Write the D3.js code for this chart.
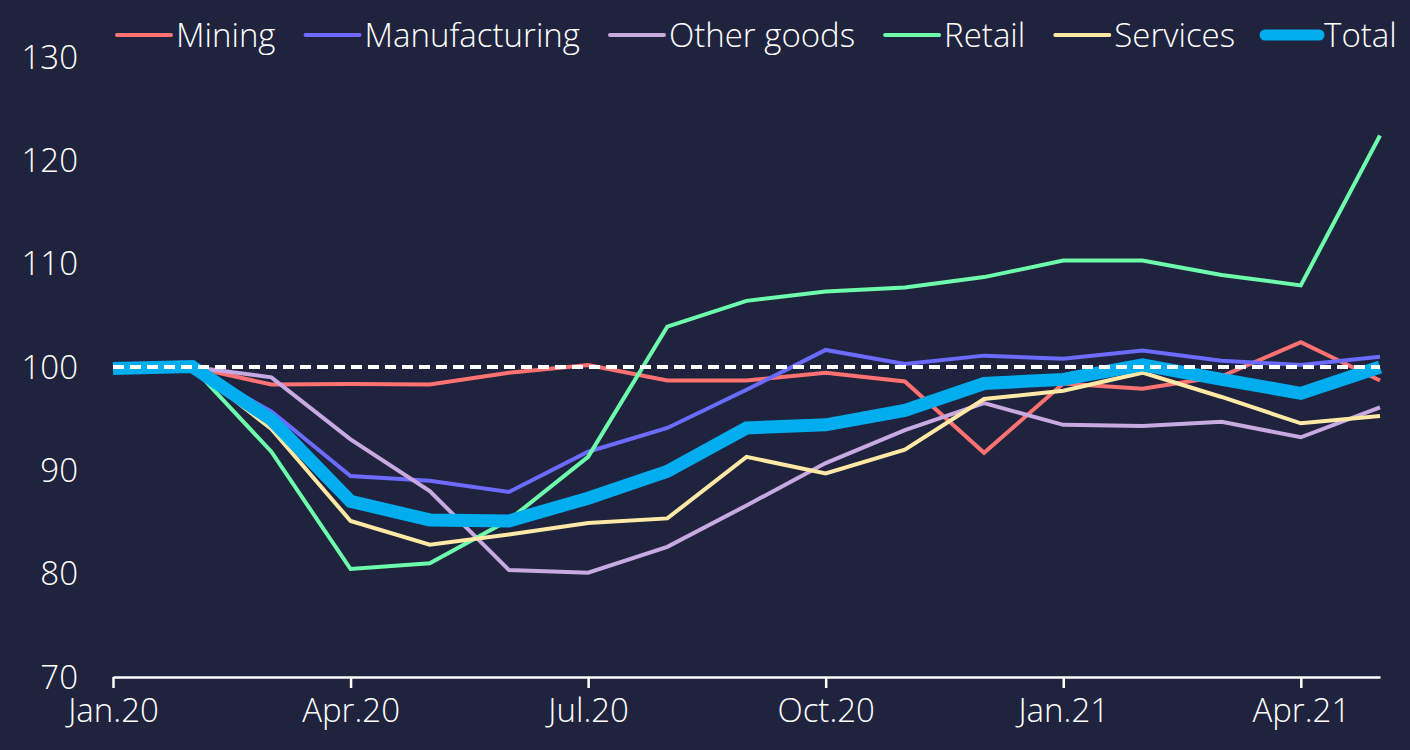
<!DOCTYPE html>
<html>
<head>
<meta charset="utf-8">
<script src="https://cdn.jsdelivr.net/npm/d3@7"></script>
<style>
  html, body { margin: 0; padding: 0; background: #1f233d; }
  svg { display: block; }
  text { font-family: "Open Sans", sans-serif; font-weight: 300; fill: #ffffff; }
</style>
</head>
<body>
<svg id="chart" width="1410" height="750"></svg>
<script>
const months = ["Jan.20","Feb.20","Mar.20","Apr.20","May.20","Jun.20","Jul.20","Aug.20","Sep.20","Oct.20","Nov.20","Dec.20","Jan.21","Feb.21","Mar.21","Apr.21","May.21"];
const tickLabels = ["Jan.20","Apr.20","Jul.20","Oct.20","Jan.21","Apr.21"];
const yTicks = [70, 80, 90, 100, 110, 120, 130];

const mining        = [100, 100, 98.3, 98.35, 98.3, 99.45, 100.2, 98.7, 98.7, 99.45, 98.6, 91.7, 98.4, 97.9, 99.1, 102.4, 98.7];
const manufacturing = [100, 100, 95.7, 89.45, 89.0, 87.9, 91.8, 94.1, 97.8, 101.65, 100.3, 101.1, 100.8, 101.6, 100.6, 100.2, 101.0];
const otherGoods    = [100, 100, 99.0, 93.0, 88.0, 80.35, 80.1, 82.6, 86.6, 90.7, 93.9, 96.5, 94.4, 94.3, 94.7, 93.2, 96.1];
const retail        = [100, 100, 91.8, 80.45, 81.0, 85.2, 91.3, 103.9, 106.4, 107.3, 107.7, 108.7, 110.3, 110.3, 108.9, 107.9, 122.4];
const services      = [100, 100, 94.0, 85.1, 82.8, 83.8, 84.9, 85.35, 91.3, 89.7, 92.0, 96.9, 97.7, 99.45, 97.1, 94.55, 95.25];
const total         = [99.85, 100.05, 94.9, 87.0, 85.2, 85.1, 87.3, 89.9, 94.1, 94.4, 95.8, 98.4, 98.8, 100.2, 98.8, 97.45, 100.0];

const seriesNames = ["Mining","Manufacturing","Other goods","Retail","Services","Total"];
const seriesValues = [mining, manufacturing, otherGoods, retail, services, total];
const seriesColors = ["#ff7271","#6b6bff","#c9a9e2","#6dfcab","#ffe9a5","#00aeef"];
const baseline = 100;

const svg = d3.select("#chart");
const x = d3.scaleLinear().domain([0, months.length - 1]).range([113, 1380]);
const y = d3.scaleLinear().domain([70, 130]).range([677, 57]);

// y labels
svg.append("g").selectAll("text").data(yTicks).join("text")
  .attr("x", 78).attr("y", d => y(d)).attr("dy", "0.35em")
  .attr("text-anchor", "end").style("font-size", "33px")
  .text(d => d);

// x axis
const xAxis = d3.axisBottom(x)
  .tickValues(tickLabels.map(l => months.indexOf(l)))
  .tickFormat(i => months[i])
  .tickSizeInner(11).tickSizeOuter(0).tickPadding(11);
const gx = svg.append("g").attr("transform", `translate(0,${y(70)})`).call(xAxis);
gx.select(".domain").attr("stroke", "#ffffff").attr("stroke-width", 2.5);
gx.selectAll(".tick line").attr("stroke", "#ffffff").attr("stroke-width", 2.5);
gx.selectAll(".tick text").attr("fill", "#ffffff").style("font-size", "33px")
  .style("font-family", "'Open Sans', sans-serif").style("font-weight", 300);

// lines
const line = d3.line().x((d, i) => x(i)).y(d => y(d));
seriesValues.forEach((vals, k) => {
  const isTotal = seriesNames[k] === "Total";
  svg.append("path").datum(vals)
    .attr("fill", "none")
    .attr("stroke", seriesColors[k])
    .attr("stroke-width", isTotal ? 13 : 4)
    .attr("stroke-linejoin", "miter")
    .attr("d", line);
});

// baseline dashed
svg.append("path").datum(months.map(() => baseline))
  .attr("fill", "none").attr("stroke", "#ffffff").attr("stroke-width", 4)
  .attr("stroke-dasharray", "11,6")
  .attr("d", line);

// legend
const lg = svg.append("g");
let lx = 117;
seriesNames.forEach((name, k) => {
  const isTotal = name === "Total";
  lg.append("line").attr("x1", lx).attr("x2", lx + 54).attr("y1", 35).attr("y2", 35)
    .attr("stroke", seriesColors[k]).attr("stroke-width", isTotal ? 11 : 4)
    .attr("stroke-linecap", "round");
  const t = lg.append("text").attr("x", lx + 59).attr("y", 35).attr("dy", "0.35em")
    .style("font-size", "33px").text(name);
  lx += 59 + t.node().getComputedTextLength() + 30;
});
</script>
</body>
</html>
